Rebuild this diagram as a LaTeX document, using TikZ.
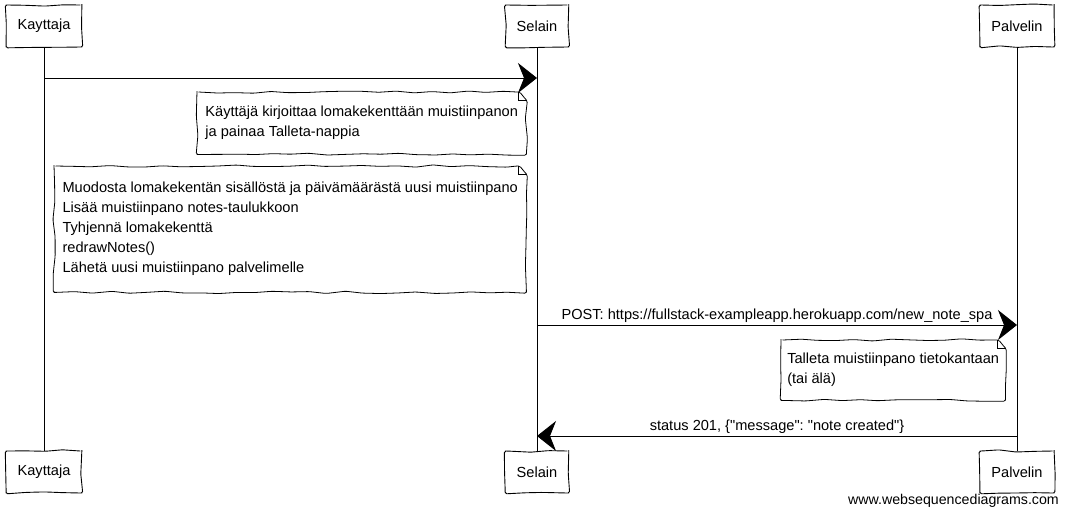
\documentclass[tikz,border=0pt]{standalone}
\usepackage{fontspec}
\setmainfont{Liberation Sans}
\usetikzlibrary{arrows.meta,decorations.pathmorphing,positioning}

\tikzset{
  sketch/.style={decorate,decoration={random steps,segment length=18pt,amplitude=1.2pt},rounded corners=1.5pt,line join=round},
  actor/.style={draw,sketch,line width=.9pt,minimum height=42pt,inner xsep=11.5pt,font=\fontsize{14.6}{17}\selectfont},
  life/.style={line width=.7pt},
  msg/.style={line width=.9pt,-{Stealth[length=19pt,width=30pt,inset=6pt]}},
  lbl/.style={above=1pt,inner sep=1pt,font=\fontsize{14.6}{17}\selectfont},
  notetext/.style={anchor=north west,align=left,inner sep=0pt,font=\fontsize{14.6}{20}\selectfont}
}
\newcommand{\noteframe}[1]{%
  \draw[sketch,line width=.8pt] (#1.north west) -- ([xshift=-8pt]#1.north east)
    -- ([yshift=-8pt]#1.north east) -- (#1.south east) -- (#1.south west) -- cycle;
  \draw[line width=.5pt] ([xshift=-8pt]#1.north east) |- ([yshift=-8pt]#1.north east);}

\begin{document}
\begin{tikzpicture}[x=1pt,y=1pt]
  \useasboundingbox (0,0) rectangle (1068,-515);

  \node[actor] (kay) at (44,-26) {Kayttaja};
  \node[actor] (sel) at (537,-26) {Selain};
  \node[actor] (pal) at (1017,-26) {Palvelin};
  \node[actor] (kayb) at (44,-472) {Kayttaja};
  \node[actor] (selb) at (537,-472) {Selain};
  \node[actor] (palb) at (1017,-472) {Palvelin};

  \draw[life] (kay) -- (kayb);
  \draw[life] (sel) -- (selb);
  \draw[life] (pal) -- (palb);

  \coordinate (m1a) at (kay.south |- 0,-78);
  \coordinate (m1b) at (sel.south |- 0,-78);
  \coordinate (m2a) at (sel.south |- 0,-325);
  \coordinate (m2b) at (pal.south |- 0,-325);
  \coordinate (m3a) at (pal.south |- 0,-436);
  \coordinate (m3b) at (sel.south |- 0,-436);

  \draw[msg] (m1a) -- (m1b);

  \node[notetext,minimum width=329pt,minimum height=62pt] (n1) at (197,-92)
    {Käyttäjä kirjoittaa lomakekenttään muistiinpanon\\ja painaa Talleta-nappia};
  \noteframe{n1}

  \node[notetext,minimum width=472pt,minimum height=126pt] (n2) at (54,-166)
    {Muodosta lomakekentän sisällöstä ja päivämäärästä uusi muistiinpano\\
     Lisää muistiinpano notes-taulukkoon\\Tyhjennä lomakekenttä\\redrawNotes()\\
     Lähetä uusi muistiinpano palvelimelle};
  \noteframe{n2}

  \draw[msg] (m2a) -- node[lbl]{POST: https://fullstack-exampleapp.herokuapp.com/new\_note\_spa} (m2b);

  \node[notetext,minimum width=224pt,minimum height=60pt] (n3) at (781,-340)
    {Talleta muistiinpano tietokantaan\\(tai älä)};
  \noteframe{n3}

  \draw[msg] (m3a) -- node[lbl]{status 201, \{\textquotedbl message\textquotedbl:\ \textquotedbl note created\textquotedbl\}} (m3b);

  \node[anchor=east,inner sep=0pt,font=\fontsize{14.2}{16}\selectfont] (wsd) at (1059,-501) {www.websequencediagrams.com};
\end{tikzpicture}
\end{document}
